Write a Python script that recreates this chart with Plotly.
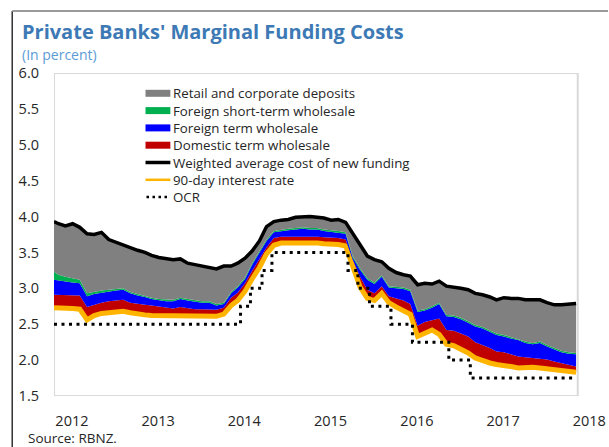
import plotly.graph_objects as go

# ---------------- data ----------------
dates = ["2012-01-13"] + [f"{y}-{m:02d}-01" for y in range(2012, 2019) for m in range(1, 13)][1:74]

weighted_avg = [3.93, 3.90, 3.87, 3.90, 3.85, 3.76, 3.75, 3.78, 3.68, 3.64, 3.60, 3.57,
                3.53, 3.50, 3.46, 3.43, 3.41, 3.40, 3.41, 3.35, 3.33, 3.31, 3.29, 3.27,
                3.31, 3.31, 3.35, 3.42, 3.52, 3.66, 3.86, 3.93, 3.95, 3.96, 3.99, 4.00,
                4.00, 3.99, 3.98, 3.95, 3.96, 3.92, 3.76, 3.60, 3.45, 3.40, 3.37, 3.28,
                3.22, 3.19, 3.17, 3.05, 3.07, 3.06, 3.10, 3.03, 3.02, 3.00, 2.98, 2.93,
                2.91, 2.88, 2.84, 2.87, 2.86, 2.86, 2.84, 2.84, 2.84, 2.80, 2.77, 2.77,
                2.78, 2.79]

foreign_short_top = [3.23, 3.19, 3.16, 3.14, 3.12, 2.93, 2.95, 2.97, 2.98, 2.99, 3.00, 2.95,
                     2.92, 2.90, 2.87, 2.85, 2.84, 2.84, 2.87, 2.85, 2.83, 2.82, 2.82, 2.78,
                     2.80, 2.95, 3.03, 3.15, 3.35, 3.52, 3.68, 3.80, 3.82, 3.83, 3.84, 3.85,
                     3.84, 3.84, 3.82, 3.81, 3.80, 3.78, 3.45, 3.28, 3.14, 3.08, 3.18, 3.03,
                     3.02, 3.01, 2.98, 2.69, 2.71, 2.75, 2.80, 2.63, 2.62, 2.59, 2.54, 2.49,
                     2.46, 2.41, 2.37, 2.35, 2.32, 2.30, 2.26, 2.24, 2.26, 2.21, 2.17, 2.13,
                     2.11, 2.10]

foreign_term_top = [3.12, 3.11, 3.09, 3.08, 3.07, 2.89, 2.92, 2.94, 2.96, 2.97, 2.98, 2.93,
                    2.90, 2.88, 2.85, 2.83, 2.82, 2.82, 2.85, 2.83, 2.81, 2.80, 2.80, 2.76,
                    2.78, 2.93, 3.01, 3.13, 3.33, 3.50, 3.66, 3.78, 3.80, 3.81, 3.82, 3.83,
                    3.82, 3.82, 3.80, 3.79, 3.78, 3.76, 3.43, 3.26, 3.12, 3.06, 3.16, 3.01,
                    3.00, 2.99, 2.96, 2.67, 2.69, 2.73, 2.78, 2.61, 2.60, 2.57, 2.52, 2.47,
                    2.44, 2.39, 2.35, 2.33, 2.30, 2.28, 2.24, 2.22, 2.24, 2.19, 2.15, 2.11,
                    2.09, 2.08]

domestic_term_top = [2.91, 2.91, 2.91, 2.91, 2.90, 2.74, 2.77, 2.80, 2.82, 2.83, 2.84, 2.80,
                     2.78, 2.77, 2.76, 2.75, 2.73, 2.72, 2.74, 2.72, 2.71, 2.71, 2.71, 2.70,
                     2.73, 2.87, 2.94, 3.07, 3.24, 3.40, 3.57, 3.70, 3.72, 3.72, 3.72, 3.73,
                     3.72, 3.72, 3.71, 3.71, 3.70, 3.68, 3.40, 3.16, 2.98, 2.93, 3.03, 2.89,
                     2.86, 2.83, 2.78, 2.48, 2.53, 2.55, 2.58, 2.42, 2.41, 2.37, 2.33, 2.25,
                     2.21, 2.17, 2.12, 2.11, 2.08, 2.05, 2.04, 2.03, 2.03, 2.01, 1.98, 1.96,
                     1.93, 1.91]

rate_90day = [2.73, 2.73, 2.72, 2.72, 2.71, 2.56, 2.62, 2.65, 2.66, 2.67, 2.68, 2.66,
              2.64, 2.63, 2.62, 2.62, 2.61, 2.61, 2.62, 2.61, 2.61, 2.61, 2.61, 2.61,
              2.64, 2.76, 2.83, 2.96, 3.13, 3.29, 3.48, 3.60, 3.63, 3.63, 3.63, 3.64,
              3.63, 3.63, 3.62, 3.62, 3.61, 3.59, 3.29, 3.02, 2.86, 2.83, 2.93, 2.80,
              2.74, 2.69, 2.64, 2.33, 2.37, 2.42, 2.36, 2.22, 2.20, 2.15, 2.10, 2.03,
              1.99, 1.96, 1.94, 1.93, 1.91, 1.89, 1.90, 1.90, 1.89, 1.88, 1.87, 1.86,
              1.84, 1.83]

ocr_dates = ["2012-01-13", "2014-03-13", "2014-04-24", "2014-06-12", "2014-07-24",
             "2015-06-11", "2015-07-23", "2015-09-10", "2015-12-10", "2016-03-10",
             "2016-08-11", "2016-11-10", "2018-02-01"]
ocr_values = [2.50, 2.75, 3.00, 3.25, 3.50, 3.25, 3.00, 2.75, 2.50, 2.25, 2.00, 1.75, 1.75]

year_labels = ["2012", "2013", "2014", "2015", "2016", "2017", "2018"]
year_tick_pos = [f"{y}-03-29" for y in year_labels]
y_ticks = [1.5, 2.0, 2.5, 3.0, 3.5, 4.0, 4.5, 5.0, 5.5, 6.0]

names = ["Retail and corporate deposits", "Foreign short-term wholesale",
         "Foreign term wholesale", "Domestic term wholesale",
         "Weighted average cost of new funding", "90-day interest rate", "OCR"]

# ---------------- styles ----------------
C_GRAY, C_GREEN, C_BLUE, C_RED = "#808080", "#00b050", "#0000ff", "#c00000"
C_BLACK, C_ORANGE = "#000000", "#ffb400"
FONT = "Open Sans, Noto Sans, sans-serif"

W, H = 609, 447
ML, MR, MT, MB = 54, 3, 73, 51


def px_x(px):
    return (px - ML) / (W - ML - MR)


def px_y(py):
    return (H - MB - py) / (H - MT - MB)


fig = go.Figure()
fig.add_trace(go.Scatter(x=dates, y=rate_90day, mode="lines", name=names[5],
                         line=dict(color=C_ORANGE, width=5), showlegend=False))
fig.add_trace(go.Scatter(x=dates, y=domestic_term_top, mode="lines", name=names[3],
                         line=dict(width=0), fill="tonexty", fillcolor=C_RED, showlegend=False))
fig.add_trace(go.Scatter(x=dates, y=foreign_term_top, mode="lines", name=names[2],
                         line=dict(width=0), fill="tonexty", fillcolor=C_BLUE, showlegend=False))
fig.add_trace(go.Scatter(x=dates, y=foreign_short_top, mode="lines", name=names[1],
                         line=dict(width=0), fill="tonexty", fillcolor=C_GREEN, showlegend=False))
fig.add_trace(go.Scatter(x=dates, y=weighted_avg, mode="lines", name=names[4],
                         line=dict(color=C_BLACK, width=3.5), fill="tonexty",
                         fillcolor=C_GRAY, showlegend=False))
fig.add_trace(go.Scatter(x=ocr_dates, y=ocr_values, mode="lines", name=names[6],
                         line=dict(color=C_BLACK, width=3, dash="3px,4.5px", shape="hv"),
                         showlegend=False))

shapes = []
annotations = []

# plot frame
shapes.append(dict(type="rect", xref="x", yref="y", x0=dates[0], x1="2018-02-08",
                   y0=1.5, y1=6.0, line=dict(color="#d9d9d9", width=2), layer="below"))
# outer panel border (left and top)
shapes.append(dict(type="line", xref="paper", yref="paper", x0=px_x(12), x1=px_x(12),
                   y0=px_y(11), y1=px_y(H + 2), line=dict(color="#333333", width=1.5)))
shapes.append(dict(type="line", xref="paper", yref="paper", x0=px_x(12), x1=px_x(W + 2),
                   y0=px_y(11), y1=px_y(11), line=dict(color="#9a9a9a", width=2)))

# custom legend
legend_kind = ["box", "box", "box", "box", "line", "line", "dot"]
legend_col = [C_GRAY, C_GREEN, C_BLUE, C_RED, C_BLACK, C_ORANGE, C_BLACK]
row0, row_step = 93.3, 17.3
for i, (nm, kind, col) in enumerate(zip(names, legend_kind, legend_col)):
    yc = row0 + i * row_step
    if kind == "box":
        shapes.append(dict(type="rect", xref="paper", yref="paper",
                           x0=px_x(146), x1=px_x(171), y0=px_y(yc + 3.5), y1=px_y(yc - 3.5),
                           fillcolor=col, line=dict(width=0)))
    elif kind == "line":
        shapes.append(dict(type="line", xref="paper", yref="paper",
                           x0=px_x(146), x1=px_x(171), y0=px_y(yc), y1=px_y(yc),
                           line=dict(color=col, width=3.5 if col == C_BLACK else 2.5)))
    else:
        shapes.append(dict(type="line", xref="paper", yref="paper",
                           x0=px_x(147), x1=px_x(171), y0=px_y(yc), y1=px_y(yc),
                           line=dict(color=col, width=2.5, dash="2.5px,3.5px")))
    annotations.append(dict(xref="paper", yref="paper", x=px_x(172), y=px_y(yc),
                            xanchor="left", yanchor="middle", showarrow=False, text=nm,
                            font=dict(family=FONT, size=13.3, color="#262626")))

# titles and source
annotations.append(dict(xref="paper", yref="paper", x=px_x(20), y=px_y(31),
                        xanchor="left", yanchor="middle", showarrow=False,
                        text="<b>Private Banks' Marginal Funding Costs</b>",
                        font=dict(family=FONT, size=20, color="#3d7ab5")))
annotations.append(dict(xref="paper", yref="paper", x=px_x(20), y=px_y(54),
                        xanchor="left", yanchor="middle", showarrow=False,
                        text="(In percent)",
                        font=dict(family=FONT, size=14, color="#5b9bd5")))
annotations.append(dict(xref="paper", yref="paper", x=px_x(26), y=px_y(438),
                        xanchor="left", yanchor="middle", showarrow=False,
                        text="Source: RBNZ.",
                        font=dict(family=FONT, size=13.5, color="#262626")))

fig.update_layout(
    width=W, height=H,
    margin=dict(l=ML, r=MR, t=MT, b=MB, pad=0),
    paper_bgcolor="white", plot_bgcolor="white",
    showlegend=False,
    shapes=shapes, annotations=annotations,
    font=dict(family=FONT, size=14.5, color="#262626"),
    xaxis=dict(type="date", range=[dates[0], "2018-05-26"], tickvals=year_tick_pos,
               ticktext=year_labels, showgrid=False, zeroline=False, showline=False,
               ticks="", ticklabelstandoff=14, tickfont=dict(size=14.5, color="#262626")),
    yaxis=dict(range=[1.5, 6.0], tickvals=y_ticks, tickformat=".1f", showgrid=False,
               zeroline=False, showline=False, ticks="", ticklabelstandoff=14,
               tickfont=dict(size=14.5, color="#262626")),
)

fig.write_html("out.html", config={"displayModeBar": False},
               post_script="document.body.style.margin='0';")
